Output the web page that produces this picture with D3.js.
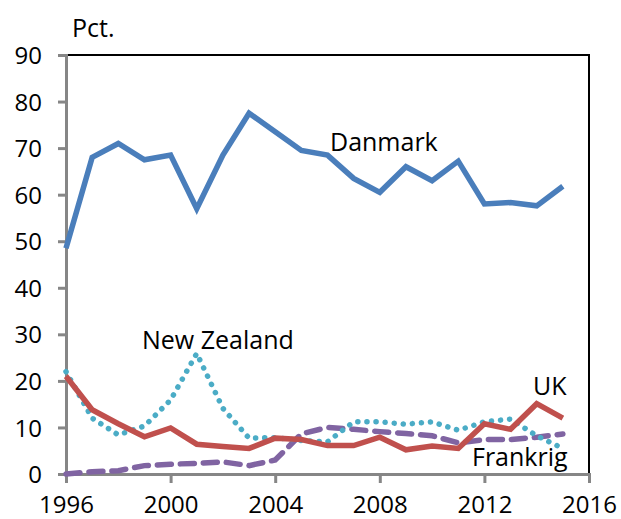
<!DOCTYPE html>
<html>
<head>
<meta charset="utf-8">
<script src="https://cdn.jsdelivr.net/npm/d3@7"></script>
<style>
  body { margin: 0; background: #fff; }
  svg text { font-family: "Open Sans", "Noto Sans", sans-serif; fill: #000; }
</style>
</head>
<body>
<svg id="chart" width="621" height="519"></svg>
<script>
const years = d3.range(1996, 2016);
const danmark = [48.5, 68, 71, 67.5, 68.5, 57, 68.5, 77.5, 73.5, 69.5, 68.5, 63.5, 60.5, 66, 63, 67.2, 58, 58.3, 57.6, 61.8];
const uk = [21, 13.8, 10.8, 8, 9.9, 6.4, 5.9, 5.5, 7.7, 7.4, 6.1, 6.1, 7.9, 5.2, 6, 5.5, 10.8, 9.6, 15.1, 12];
const newZealand = [22, 12, 8.4, 10.3, 15.9, 25.9, 14.1, 7.7, 7.8, 7.2, 6.9, 11.2, 11.2, 10.7, 11.2, 9.4, 11.2, 11.8, 8.2, 5.5];
const frankrig = [0, 0.5, 0.7, 1.8, 2.1, 2.3, 2.6, 1.8, 3, 8.6, 10, 9.6, 9.1, 8.7, 8.2, 6.7, 7.4, 7.4, 7.9, 8.6];
const yTicks = [0, 10, 20, 30, 40, 50, 60, 70, 80, 90];
const xTicks = [1996, 2000, 2004, 2008, 2012, 2016];

const series = [
  { name: "Frankrig", values: frankrig, color: "#8064a2", dash: "14,9", cap: "round" },
  { name: "New Zealand", values: newZealand, color: "#4bacc6", dash: "0.1,9", cap: "round" },
  { name: "UK", values: uk, color: "#c0504d", dash: null, cap: "butt" },
  { name: "Danmark", values: danmark, color: "#4a7ebb", dash: null, cap: "butt" }
];

const svg = d3.select("#chart");
const plot = { left: 66, right: 589, top: 55, bottom: 474 };

const x = d3.scaleLinear().domain([1996, 2016]).range([plot.left, plot.right]);
const y = d3.scaleLinear().domain([0, 90]).range([plot.bottom, plot.top]);

// frame top & right
svg.append("path")
  .attr("d", `M${plot.left},${plot.top}H${plot.right}V${plot.bottom}`)
  .attr("fill", "none").attr("stroke", "#000").attr("stroke-width", 2);

const yAxis = svg.append("g").attr("transform", `translate(${plot.left},0)`)
  .call(d3.axisLeft(y).tickValues(yTicks).tickSize(8).tickPadding(16));
const xAxis = svg.append("g").attr("transform", `translate(0,${plot.bottom})`)
  .call(d3.axisBottom(x).tickValues(xTicks).tickFormat(d3.format("d")).tickSize(9));

[yAxis, xAxis].forEach(g => {
  g.select(".domain").attr("stroke", "#868686").attr("stroke-width", 3);
  g.selectAll(".tick line").attr("stroke", "#868686").attr("stroke-width", 3);
  g.selectAll(".tick text").attr("font-size", 24).attr("fill", "#000")
    .style("font-family", "'Open Sans', 'Noto Sans', sans-serif");
});
yAxis.selectAll(".tick text").attr("dy", "0.36em");
xAxis.selectAll(".tick text").attr("y", 39).attr("dy", null);

const line = d3.line().x((d, i) => x(years[i])).y(d => y(d));

series.forEach(s => {
  svg.append("path")
    .datum(s.values)
    .attr("d", line)
    .attr("fill", "none")
    .attr("stroke", s.color)
    .attr("stroke-width", 5.5)
    .attr("stroke-linejoin", "miter")
    .attr("stroke-linecap", s.cap)
    .attr("stroke-dasharray", s.dash);
});

const labels = [
  { text: "Pct.", x: 72, y: 37 },
  { text: "Danmark", x: 330, y: 151 },
  { text: "New Zealand", x: 142, y: 349 },
  { text: "UK", x: 533, y: 395 },
  { text: "Frankrig", x: 472, y: 466 }
];
svg.selectAll("text.lbl").data(labels).join("text")
  .attr("class", "lbl")
  .attr("x", d => d.x).attr("y", d => d.y)
  .attr("font-size", 25)
  .text(d => d.text);
</script>
</body>
</html>
